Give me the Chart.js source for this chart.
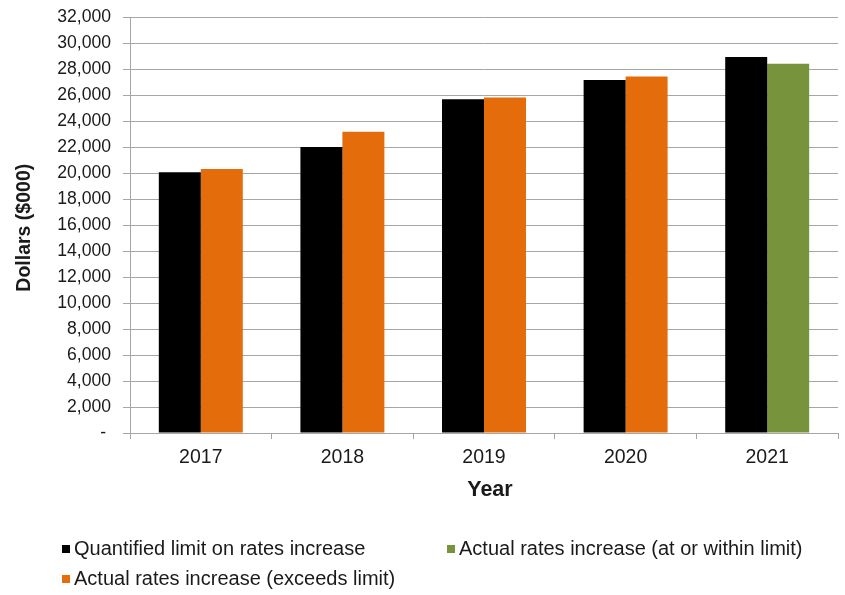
<!DOCTYPE html>
<html>
<head>
<meta charset="utf-8">
<script src="https://cdn.jsdelivr.net/npm/chart.js@4/dist/chart.umd.min.js"></script>
<style>
  html, body { margin: 0; padding: 0; background: #fff; }
  #wrap { position: relative; width: 845px; height: 595px; }
  canvas { position: absolute; left: 0; top: 0; }
  .leg { position: absolute; font-family: "Liberation Sans", Arial, sans-serif; font-size: 20px; color: #1a1a1a; white-space: nowrap; line-height: 22px; }
  .leg span.sw { display: inline-block; width: 8px; height: 8px; margin-right: 4px; vertical-align: 2px; }
</style>
</head>
<body>
<div id="wrap">
  <canvas id="c" width="845" height="595"></canvas>
  <div id="legend"></div>
</div>
<script>
const categories = ["2017", "2018", "2019", "2020", "2021"];
const limitValues = [20050, 22000, 25680, 27150, 28920];
const exceedsValues = [20300, 23180, 25800, 27420, null];
const withinValues = [null, null, null, null, 28400];
const seriesNames = ["Quantified limit on rates increase", "Actual rates increase (exceeds limit)", "Actual rates increase (at or within limit)"];
const seriesColors = ["#000000", "#E46C0A", "#77933C"];
const yTickMin = 0, yTickMax = 32000, yTickStep = 2000;
const yTitle = "Dollars ($000)";
const xTitle = "Year";

const FONT = "'Liberation Sans', Arial, sans-serif";
const gridColor = "#a6a6a6";

new Chart(document.getElementById('c'), {
  type: 'bar',
  data: {
    labels: categories,
    datasets: [
      { label: seriesNames[0], data: limitValues, backgroundColor: seriesColors[0], stack: 'a' },
      { label: seriesNames[1], data: exceedsValues, backgroundColor: seriesColors[1], stack: 'b' },
      { label: seriesNames[2], data: withinValues, backgroundColor: seriesColors[2], stack: 'b' }
    ]
  },
  options: {
    responsive: false,
    animation: false,
    devicePixelRatio: 1,
    layout: { padding: { top: 17, right: 7, bottom: 82, left: 0 } },
    datasets: { bar: { categoryPercentage: 0.593, barPercentage: 1.0 } },
    plugins: { legend: { display: false }, tooltip: { enabled: false } },
    scales: {
      x: {
        grid: { display: true, drawOnChartArea: false, offset: true, color: gridColor, tickLength: 6 },
        border: { color: gridColor },
        ticks: { color: '#1a1a1a', font: { family: FONT, size: 19.5 }, padding: 7, maxRotation: 0 },
        title: { display: true, text: '  ' + xTitle, color: '#1a1a1a', font: { family: FONT, size: 21.5, weight: 'bold' }, padding: { top: 0, bottom: 10 } },
        afterFit: s => { s.height = 80; s.paddingLeft = 0; s.paddingRight = 0; }
      },
      y: {
        min: yTickMin, max: yTickMax,
        grid: { color: gridColor, tickLength: 7 },
        border: { color: gridColor },
        ticks: {
          stepSize: yTickStep, color: '#1a1a1a', font: { family: FONT, size: 17.6 }, padding: 12,
          callback: v => v === 0 ? '- ' : v.toLocaleString('en-US')
        },
        title: { display: true, text: yTitle + ' ', color: '#1a1a1a', font: { family: FONT, size: 19.5, weight: 'bold' }, padding: { top: 13, bottom: 0 } },
        afterFit: s => { s.width = 130; s.paddingTop = 0; s.paddingBottom = 0; }
      }
    }
  }
});

const legendItems = [
  { i: 0, x: 62, y: 537 },
  { i: 2, x: 447, y: 537 },
  { i: 1, x: 62, y: 567 }
];
const lg = document.getElementById('legend');
legendItems.forEach(it => {
  const d = document.createElement('div');
  d.className = 'leg';
  d.style.left = it.x + 'px';
  d.style.top = it.y + 'px';
  d.innerHTML = '<span class="sw" style="background:' + seriesColors[it.i] + '"></span>' + seriesNames[it.i];
  lg.appendChild(d);
});
</script>
</body>
</html>
